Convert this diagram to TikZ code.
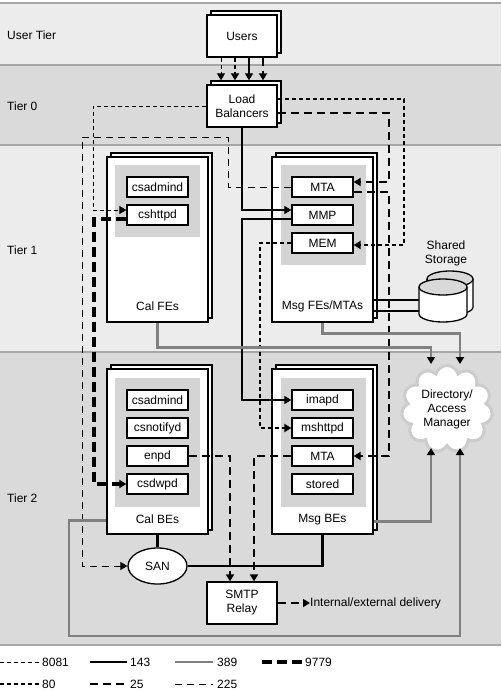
\documentclass[tikz,border=0pt]{standalone}
\usepackage{fontspec}
\setmainfont{Liberation Sans}
\usetikzlibrary{arrows.meta, shapes.geometric, shapes.symbols, shadows}
\definecolor{bandlight}{gray}{0.925}
\definecolor{banddark}{gray}{0.855}
\definecolor{panelgray}{gray}{0.83}
\definecolor{tierline}{gray}{0.65}
\definecolor{ldapgray}{gray}{0.5}

\begin{document}
\begin{tikzpicture}[x=1pt, y=-1pt,
	every node/.style={font=\fontsize{12}{14}\selectfont, inner sep=0pt},
	box/.style={draw, line width=1.3pt, fill=white, minimum width=70pt, minimum height=42pt, align=center},
	stacked/.style={copy shadow={shadow xshift=4pt, shadow yshift=4pt, draw=black, line width=1.3pt, fill=white}},
	host/.style={draw, line width=1.3pt, fill=white, minimum width=101pt, minimum height=165pt},
	panel/.style={fill=panelgray, minimum width=85pt},
	svc/.style={draw, line width=1.3pt, fill=white, minimum width=61pt, minimum height=20pt},
	arr/.style={-{Triangle[length=7pt, width=8pt]}},
	garr/.style={-{Triangle[length=7pt, width=8pt, color=black]}},
	p8081/.style={line width=0.9pt, dash pattern=on 4pt off 3pt},
	p80/.style={line width=2.6pt, dash pattern=on 4pt off 3pt},
	p143/.style={line width=1.1pt},
	p25/.style={line width=2.6pt, dash pattern=on 8pt off 5pt},
	p225/.style={line width=1pt, dash pattern=on 7pt off 5pt},
	p389/.style={line width=2.6pt, ldapgray},
	p9779/.style={line width=3.4pt, dash pattern=on 10pt off 5pt},
	sanlink/.style={line width=2.2pt}]
			\useasboundingbox (0,0) rectangle (501,690);
			% tiers
			\fill[bandlight](0,3) rectangle (501,65);
			\fill[banddark](0,65) rectangle (501,145);
			\fill[bandlight](0,145) rectangle (501,352);
			\fill[banddark](0,352) rectangle (501,645);
			\foreach \y in {3,65,145,352,645}
				\draw[tierline, line width=2pt](0,\y)--(501,\y);
			\node[anchor=west] (tuser) at (7,35) {User Tier};
			\node[anchor=west] (tzero) at (7,106) {Tier 0};
			\node[anchor=west] (tone) at (7,250) {Tier 1};
			\node[anchor=west] (ttwo) at (7,498) {Tier 2};
			% users and load balancers
			\node[box, stacked] (users) at (242,36) {Users};
			\node[box, stacked] (lb) at (242,106) {Load\\Balancers};
			% tier 1
			\node[host, stacked] (calfe) at (157.5,239.5) {};
			\node[panel, minimum height=72pt] (calfepanel) at (157.5,201) {};
			\node[svc] (csadmindfe) at (157.5,187) {csadmind};
			\node[svc] (cshttpd) at (157.5,215) {cshttpd};
			\node (calfelbl) at ([yshift=16pt]calfe.south) {Cal FEs};
			\node[host, stacked] (msgfe) at (322.5,239.5) {};
			\node[panel, minimum height=100pt] (msgfepanel) at (323,215) {};
			\node[svc] (mtafe) at (322.5,187) {MTA};
			\node[svc] (mmp) at (322.5,215) {MMP};
			\node[svc] (mem) at (322.5,243) {MEM};
			\node (msgfelbl) at ([yshift=16pt]msgfe.south) {Msg FEs/MTAs};
			% tier 2
			\node[host, stacked] (calbe) at (157.5,451.5) {};
			\node[panel, minimum height=129pt] (calbepanel) at (157.5,442.5) {};
			\node[svc] (csadmindbe) at (157.5,400) {csadmind};
			\node[svc] (csnotifyd) at (157.5,428) {csnotifyd};
			\node[svc] (enpd) at (157.5,456) {enpd};
			\node[svc] (csdwpd) at (157.5,484) {csdwpd};
			\node (calbelbl) at ([yshift=15pt]calbe.south) {Cal BEs};
			\node[host, stacked] (msgbe) at (322.5,451.5) {};
			\node[panel, minimum height=129pt] (msgbepanel) at (323,442.5) {};
			\node[svc] (imapd) at (322.5,400) {imapd};
			\node[svc] (mshttpd) at (322.5,428) {mshttpd};
			\node[svc] (mtabe) at (322.5,456) {MTA};
			\node[svc] (stored) at (322.5,484) {stored};
			\node (msgbelbl) at ([yshift=15pt]msgbe.south) {Msg BEs};
			\node[ellipse, draw, line width=1.3pt, fill=white, minimum width=59pt, minimum height=36pt] (san) at (157.5,566) {SAN};
			\node[box] (smtp) at (242,603) {SMTP\\Relay};
			\node[anchor=west] (delivery) at (310,603) {Internal/external delivery};
			\node[cloud, cloud puffs=11, draw=gray!40, line width=3pt, fill=white, minimum width=91pt, minimum height=87pt, align=center] (dir) at (447,409) {Directory/\\Access\\Manager};
			% shared storage
			\node[align=center] (storlbl) at (446,253.5) {Shared\\Storage};
			\filldraw[line width=1.3pt, fill=white](427,279)--(427,307) arc[start angle=180, end angle=0, x radius=23, y radius=8]--(473,279);
			\filldraw[line width=1.3pt, fill=gray!30](450,279) ellipse[x radius=23, y radius=8];
			\filldraw[line width=1.3pt, fill=white](419,287)--(419,314) arc[start angle=180, end angle=0, x radius=24, y radius=8]--(467,287);
			\filldraw[line width=1.3pt, fill=gray!30](443,287) ellipse[x radius=24, y radius=8];
			\coordinate (stora) at (419,300);
			\coordinate (storb) at (419,311);
			\draw[sanlink](stora -| msgfe.east)--(stora);
			\draw[sanlink](storb -| msgfe.east)--(storb);
			% users to load balancers
			\draw[p8081, arr]([xshift=-21pt]users.south)--([xshift=-21pt, yshift=4pt]lb.north);
			\draw[p80, arr]([xshift=-7pt]users.south)--([xshift=-7pt, yshift=4pt]lb.north);
			\draw[p143, arr]([xshift=7pt]users.south)--([xshift=7pt, yshift=4pt]lb.north);
			\draw[p25, arr]([xshift=21pt]users.south)--([xshift=21pt, yshift=4pt]lb.north);
			% load balancers to front ends
			\draw[p8081, arr](lb.west) -| (93,210)--([yshift=5pt]cshttpd.west);
			\draw[p80, arr]([yshift=7pt]lb.east) -| (404,245)--([yshift=-2pt]mem.east);
			\draw[p25, arr]([yshift=-7pt]lb.east) -| (389,182)--([yshift=5pt]mtafe.east);
			\draw[p143, arr](lb.south) |- ([yshift=5pt]mmp.west);
			% front ends to back ends
			\draw[p25, arr]([yshift=-5pt]mtafe.east) -| (389,456)--(mtabe.east);
			\draw[p143, arr]([yshift=-4pt]mmp.west) -| (242,400)--(imapd.west);
			\draw[p80, arr](mem.west) -| (260,428)--(mshttpd.west);
			\draw[p225, arr](mtafe.west) -| (228,137) -| (82,566)--(san.west);
			\draw[p9779, arr]([yshift=-4pt]cshttpd.west) -| (94,484)--(csdwpd.west);
			% back ends
			\draw[p25, arr](enpd.east) -| ([xshift=-12pt]smtp.north);
			\draw[p25, arr](mtabe.west) -| ([xshift=12pt]smtp.north);
			\draw[p25, arr](smtp.east)--(delivery.west);
			\draw[sanlink](calbe.south)--(san.north);
			\draw[sanlink](san.east) -| (msgbe.south);
			% directory
			\draw[p389, garr](calfe.south)--++(0,25) -| ([xshift=-16pt]dir.north);
			\draw[p389, garr](msgfe.south)--++(0,11) -| ([xshift=13pt]dir.north);
			\draw[p389, garr]([yshift=13pt]msgbe.south east) -| ([xshift=-16pt]dir.south);
			\draw[p389, garr]([yshift=14pt]calbe.south west) -| (69,636) -| ([xshift=13pt]dir.south);
			% legend
			\node[anchor=west] (k8081) at (42,662) {8081};
			\node[anchor=west] (k143) at (130,662) {143};
			\node[anchor=west] (k389) at (217,662) {389};
			\node[anchor=west] (k9779) at (305,662) {9779};
			\node[anchor=west] (k80) at (42,684) {80};
			\node[anchor=west] (k25) at (130,684) {25};
			\node[anchor=west] (k225) at (217,684) {225};
			\draw[p8081](0,662)--([xshift=-2pt]k8081.west);
			\draw[p143](90,662)--([xshift=-3pt]k143.west);
			\draw[p389](175,662)--([xshift=-4pt]k389.west);
			\draw[p9779](262,662)--([xshift=-3pt]k9779.west);
			\draw[p80](0,684)--([xshift=-2pt]k80.west);
			\draw[p25](90,684)--([xshift=-3pt]k25.west);
			\draw[p225](175,684)--([xshift=-4pt]k225.west);
		\end{tikzpicture}
\end{document}
